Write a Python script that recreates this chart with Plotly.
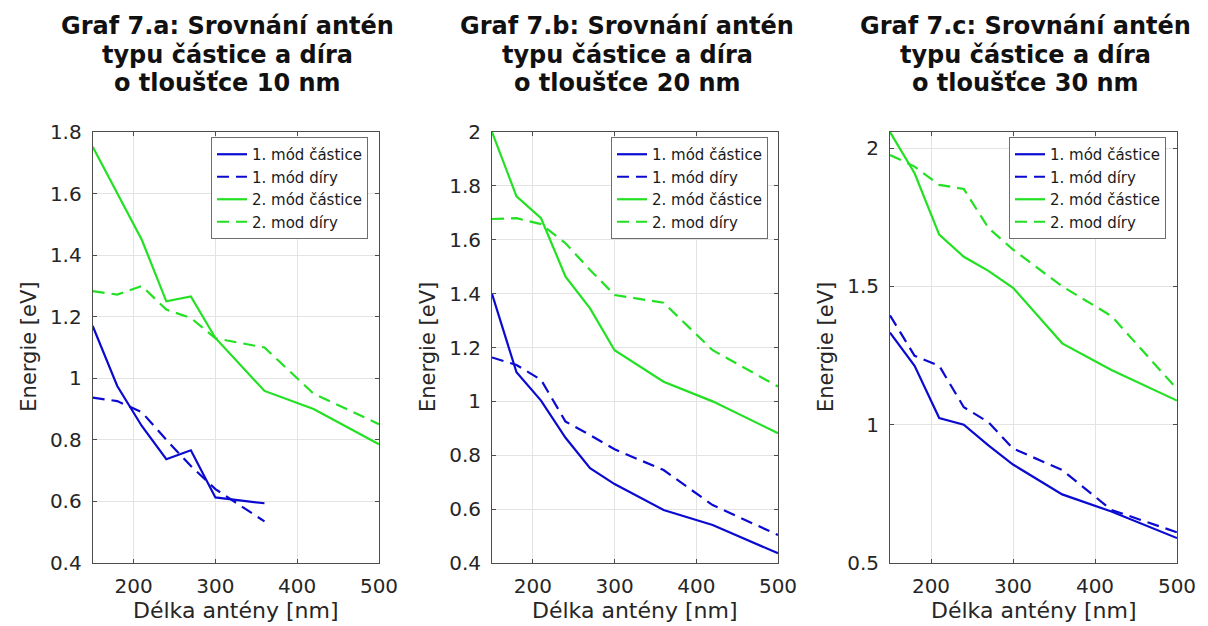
import plotly.graph_objects as go

W, H = 1208, 626

# ---------------- data ----------------
delka = [150, 180, 210, 240, 270, 300, 360, 420, 500]
delka_10 = [150, 180, 210, 240, 270, 300, 360]

# Graf 7.a  (10 nm)
a_mod1_castice = [1.17, 0.975, 0.845, 0.737, 0.766, 0.613, 0.594]
a_mod1_diry = [0.937, 0.926, 0.89, 0.80, 0.715, 0.64, 0.535]
a_mod2_castice = [1.752, 1.60, 1.45, 1.25, 1.266, 1.131, 0.959, 0.90, 0.786]
a_mod2_diry = [1.283, 1.272, 1.30, 1.223, 1.196, 1.13, 1.10, 0.95, 0.851]

# Graf 7.b  (20 nm)
b_mod1_castice = [1.399, 1.108, 1.003, 0.865, 0.752, 0.693, 0.597, 0.541, 0.436]
b_mod1_diry = [1.163, 1.135, 1.08, 0.925, 0.875, 0.822, 0.745, 0.615, 0.504]
b_mod2_castice = [2.0, 1.761, 1.68, 1.463, 1.345, 1.19, 1.073, 1.0, 0.882]
b_mod2_diry = [1.677, 1.68, 1.658, 1.587, 1.488, 1.395, 1.366, 1.19, 1.055]

# Graf 7.c  (30 nm)
c_mod1_castice = [1.333, 1.213, 1.024, 1.0, 0.925, 0.856, 0.748, 0.686, 0.59]
c_mod1_diry = [1.395, 1.249, 1.213, 1.063, 1.009, 0.914, 0.836, 0.692, 0.611]
c_mod2_castice = [2.058, 1.909, 1.687, 1.607, 1.556, 1.495, 1.294, 1.198, 1.087]
c_mod2_diry = [1.975, 1.933, 1.867, 1.852, 1.711, 1.633, 1.50, 1.393, 1.129]

names = ["1. mód částice", "1. mód díry", "2. mód částice", "2. mod díry"]
titles = [
    ["Graf 7.a: Srovnání antén", "typu částice a díra", "o tloušťce 10 nm"],
    ["Graf 7.b: Srovnání antén", "typu částice a díra", "o tloušťce 20 nm"],
    ["Graf 7.c: Srovnání antén", "typu částice a díra", "o tloušťce 30 nm"],
]
x_label = "Délka antény [nm]"
y_label = "Energie [eV]"
y_ranges = [[0.4, 1.8], [0.4, 2.0], [0.5, 2.058]]
y_ticks = [[0.4, 0.6, 0.8, 1.0, 1.2, 1.4, 1.6, 1.8],
           [0.4, 0.6, 0.8, 1.0, 1.2, 1.4, 1.6, 1.8, 2.0],
           [0.5, 1.0, 1.5, 2.0]]
y_ticktext = [["0.4", "0.6", "0.8", "1", "1.2", "1.4", "1.6", "1.8"],
              ["0.4", "0.6", "0.8", "1", "1.2", "1.4", "1.6", "1.8", "2"],
              ["0.5", "1", "1.5", "2"]]
x_ticks = [200, 300, 400, 500]

panels = [
    [(delka_10, a_mod1_castice), (delka_10, a_mod1_diry), (delka, a_mod2_castice), (delka, a_mod2_diry)],
    [(delka, b_mod1_castice), (delka, b_mod1_diry), (delka, b_mod2_castice), (delka, b_mod2_diry)],
    [(delka, c_mod1_castice), (delka, c_mod1_diry), (delka, c_mod2_castice), (delka, c_mod2_diry)],
]

# ---------------- styling ----------------
BLUE = "#0a0ad0"
GREEN = "#22e022"
colors = [BLUE, BLUE, GREEN, GREEN]
dashes = ["solid", "12px,7px", "solid", "12px,7px"]
FONT = "DejaVu Sans"
AX = "#4d4d4d"
TXT = "#262626"

# pixel geometry of the three plot areas
px_left = [92.7, 492, 890]
px_right = [379, 778, 1177]
px_top, px_bottom = 132, 563
legend_right = [368, 768, 1166]
legend_top = 137

fig = go.Figure()
for p in range(3):
    xa = "x" if p == 0 else f"x{p+1}"
    ya = "y" if p == 0 else f"y{p+1}"
    lg = "legend" if p == 0 else f"legend{p+1}"
    for k, (xs, ys) in enumerate(panels[p]):
        fig.add_trace(go.Scatter(
            x=xs, y=ys, mode="lines", name=names[k],
            line=dict(color=colors[k], width=2.2, dash=dashes[k]),
            xaxis=xa, yaxis=ya, legend=lg, showlegend=True,
        ))

layout = dict(
    width=W, height=H, autosize=False,
    margin=dict(l=0, r=0, t=0, b=0, autoexpand=False),
    paper_bgcolor="white", plot_bgcolor="white",
    font=dict(family=FONT, color=TXT),
    annotations=[],
)

for p in range(3):
    sfx = "" if p == 0 else str(p + 1)
    d_x = [px_left[p] / W, px_right[p] / W]
    d_y = [1 - px_bottom / H, 1 - px_top / H]
    layout["xaxis" + sfx] = dict(
        domain=d_x, range=[150, 500], tickvals=x_ticks,
        showgrid=True, gridcolor="#e3e3e3", gridwidth=1,
        showline=True, linecolor=AX, linewidth=1, mirror="ticks",
        ticks="inside", ticklen=4, tickcolor=AX,
        tickfont=dict(family=FONT, size=20, color=TXT),
        ticklabelstandoff=5, automargin=False,
        zeroline=False, anchor="y" + sfx,
    )
    layout["yaxis" + sfx] = dict(
        domain=d_y, range=y_ranges[p], tickvals=y_ticks[p], ticktext=y_ticktext[p],
        showgrid=True, gridcolor="#e3e3e3", gridwidth=1,
        showline=True, linecolor=AX, linewidth=1, mirror="ticks",
        ticks="inside", ticklen=4, tickcolor=AX,
        tickfont=dict(family=FONT, size=20, color=TXT),
        ticklabelstandoff=6, automargin=False,
        zeroline=False, anchor="x" + sfx,
    )
    layout["legend" + sfx] = dict(
        x=legend_right[p] / W, y=1 - legend_top / H,
        xanchor="right", yanchor="top",
        bgcolor="white", bordercolor="#6e6e6e", borderwidth=1,
        font=dict(family=FONT, size=15, color="#1a1a1a"),
        tracegroupgap=0, itemwidth=30,
    )
    cx = (px_left[p] + px_right[p]) / 2
    # title lines
    for i, (line, yc) in enumerate(zip(titles[p], [26, 55, 83])):
        layout["annotations"].append(dict(
            text=f"<b>{line}</b>", x=(cx - 8) / W, y=1 - yc / H,
            xref="paper", yref="paper", xanchor="center", yanchor="middle",
            showarrow=False, font=dict(family=FONT, size=24, color="#111111"),
        ))
    # x axis label
    layout["annotations"].append(dict(
        text=x_label, x=cx / W, y=1 - 610.5 / H, xref="paper", yref="paper",
        xanchor="center", yanchor="middle", showarrow=False,
        font=dict(family=FONT, size=22, color=TXT),
    ))
    # y axis label
    layout["annotations"].append(dict(
        text=y_label, x=(px_left[p] - 64) / W, y=1 - 347 / H, xref="paper", yref="paper",
        xanchor="center", yanchor="middle", showarrow=False, textangle=-90,
        font=dict(family=FONT, size=21, color=TXT),
    ))

fig.update_layout(**layout)
fig.write_html("out.html")
